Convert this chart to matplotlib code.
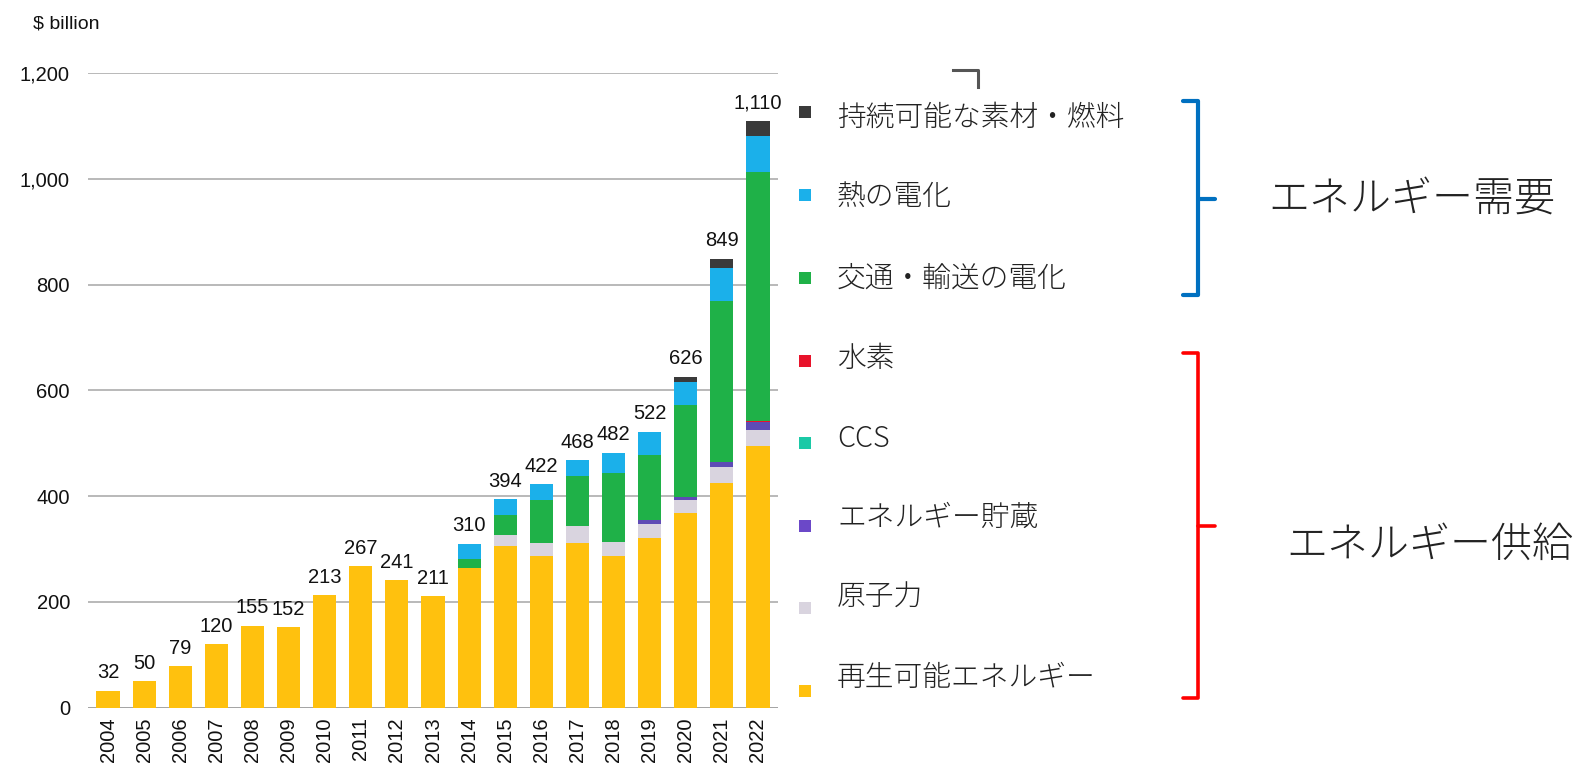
import matplotlib
matplotlib.use("Agg")
import matplotlib.pyplot as plt
import numpy as np

plt.rcParams['font.family'] = ['Liberation Sans', 'DejaVu Sans']

# data ($ billion)
years = ['2004', '2005', '2006', '2007', '2008', '2009', '2010', '2011', '2012', '2013',
         '2014', '2015', '2016', '2017', '2018', '2019', '2020', '2021', '2022']
renewables = [32, 50, 79, 120, 155, 152, 213, 267, 241, 211, 264, 305, 286, 311, 286, 320, 368, 424, 495]
nuclear = [0, 0, 0, 0, 0, 0, 0, 0, 0, 0, 0, 22, 25, 33, 28, 28, 25, 32, 30]
storage = [0, 0, 0, 0, 0, 0, 0, 0, 0, 0, 0, 0, 0, 0, 0, 6, 6, 9, 15]
ccs = [0, 0, 0, 0, 0, 0, 0, 0, 0, 0, 0, 0, 0, 0, 0, 0, 0, 0, 1]
hydrogen = [0, 0, 0, 0, 0, 0, 0, 0, 0, 0, 0, 0, 0, 0, 0, 0, 0, 0, 1]
transport = [0, 0, 0, 0, 0, 0, 0, 0, 0, 0, 18, 38, 82, 94, 130, 123, 173, 303, 470]
heat = [0, 0, 0, 0, 0, 0, 0, 0, 0, 0, 28, 29, 29, 30, 38, 45, 43, 63, 68]
materials = [0, 0, 0, 0, 0, 0, 0, 0, 0, 0, 0, 0, 0, 0, 0, 0, 11, 18, 30]

# bottom -> top stacking order
series = [renewables, nuclear, storage, ccs, hydrogen, transport, heat, materials]
colors = ['#FFC10E', '#D9D4DF', '#5E4BB5', '#1BC9A6', '#E8132B', '#1FB148', '#1BB0EA', '#3A3A3A']

# legend, top -> bottom
legend_labels = ['持続可能な素材・燃料', '熱の電化', '交通・輸送の電化', '水素', 'CCS',
                 'エネルギー貯蔵', '原子力', '再生可能エネルギー']
legend_colors = ['#3A3A3A', '#1BB0EA', '#1FB148', '#E8132B', '#1BC9A6', '#6B48C8', '#D9D4DF', '#FFC10E']
groups = ['エネルギー需要', 'エネルギー供給']

W, H = 1581, 770
fig = plt.figure(figsize=(W / 100, H / 100), dpi=100)
ax = fig.add_axes([88 / W, (H - 707.7) / H, 690 / W, 634.7 / H])

x = np.arange(len(years))
bottom = np.zeros(len(years))
for vals, c in zip(series, colors):
    ax.bar(x, vals, width=0.64, bottom=bottom, color=c, zorder=2)
    bottom += np.array(vals)

for xi, tot in zip(x, bottom):
    ax.annotate(f'{int(tot):,}', (xi, tot), xytext=(0, 6), textcoords='offset points',
                ha='center', va='bottom', fontsize=14.5, color='#111111', zorder=3)

ax.set_xlim(-0.554, 18.554)
ax.set_ylim(0, 1200)
ax.set_yticks(range(0, 1201, 200))
ax.set_yticklabels([f'{v:,}' for v in range(0, 1201, 200)])
ax.set_xticks(x)
ax.set_xticklabels(years, rotation=90)
ax.tick_params(axis='y', length=0, pad=13, labelsize=14.5, labelcolor='#111111')
ax.tick_params(axis='x', length=0, pad=7, labelsize=14.5, labelcolor='#111111')
ax.grid(axis='y', color='#A6A6A6', linewidth=1.1, zorder=0)
for s in ax.spines.values():
    s.set_visible(False)
ax.axhline(0, color='#909090', linewidth=1.2, zorder=1)

fig.text(33 / W, 1 - 24 / H, '$ billion', fontsize=14, color='#111111', va='center', ha='left')

# overlay in pixel coordinates for legend and brackets
ov = fig.add_axes([0, 0, 1, 1], zorder=5)
ov.set_xlim(0, W)
ov.set_ylim(H, 0)
ov.axis('off')
ov.patch.set_alpha(0)

marker_y = [112, 195, 278, 361, 443, 526, 608, 691]
text_y = [118, 197, 278, 359, 439, 518, 597, 678]
for lab, c, my, ty in zip(legend_labels, legend_colors, marker_y, text_y):
    ov.scatter([805], [my], marker='s', s=80, color=c, edgecolors='none')
    ov.text(837, ty, lab, fontsize=20.7, va='center', ha='left', color='#222222',
            fontweight='light', family=['Noto Sans CJK JP', 'DejaVu Sans'])

# group brackets
ov.plot([1183, 1198, 1198, 1183], [101, 101, 295, 295], color='#0070C0', lw=3.0,
        solid_joinstyle='round', solid_capstyle='round')
ov.plot([1198, 1215], [199, 199], color='#0070C0', lw=3.0, solid_capstyle='round')
ov.plot([1183, 1198, 1198, 1183], [353, 353, 698, 698], color='#FF0000', lw=2.6,
        solid_joinstyle='round', solid_capstyle='round')
ov.plot([1198, 1215], [526, 526], color='#FF0000', lw=2.6, solid_capstyle='round')
ov.text(1268, 199, groups[0], fontsize=29.5, va='center', ha='left', color='#222222',
        fontweight='light', family=['Noto Sans CJK JP', 'DejaVu Sans'])
ov.text(1286, 545, groups[1], fontsize=29.5, va='center', ha='left', color='#222222',
        fontweight='light', family=['Noto Sans CJK JP', 'DejaVu Sans'])

# small corner mark left in the original screenshot
ov.plot([953, 978, 978], [70, 70, 87], color='#555555', lw=2.2)

fig.savefig('out.png', dpi=100)
